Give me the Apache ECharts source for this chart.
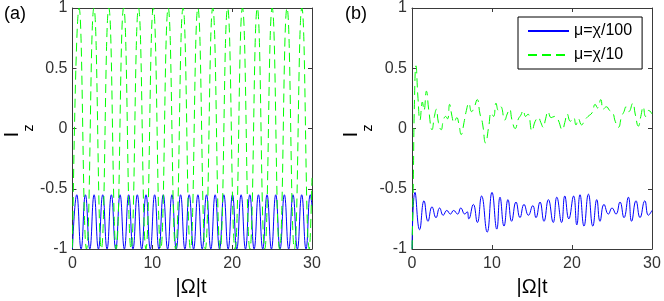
<!DOCTYPE html>
<html>
<head>
<meta charset="utf-8">
<script src="https://cdn.jsdelivr.net/npm/echarts@6/dist/echarts.min.js"></script>
<style>html,body{margin:0;padding:0;background:#fff}#c{width:664px;height:301px}</style>
</head>
<body>
<div id="c"></div>
<script>
// ---------- data ----------
const xTicks = [0, 10, 20, 30];
const yTicks = [-1, -0.5, 0, 0.5, 1];
const legendNames = ['μ=χ/100', 'μ=χ/10'];

// panel (a): extrema of the blue (μ=χ/100) curve
const aBlueT = [0, 0.54, 1.08, 1.62, 2.17, 2.71, 3.25, 3.79, 4.33, 4.87, 5.42, 5.96, 6.5, 7.04, 7.58, 8.12, 8.67, 9.21, 9.75, 10.29, 10.83, 11.37, 11.92, 12.46, 13.0, 13.54, 14.08, 14.62, 15.17, 15.71, 16.25, 16.79, 17.33, 17.87, 18.42, 18.96, 19.5, 20.04, 20.58, 21.12, 21.67, 22.21, 22.75, 23.29, 23.83, 24.37, 24.92, 25.46, 26.0, 26.54, 27.08, 27.62, 28.17, 28.71, 29.25, 29.79, 30];
const aBlueV = [-1, -0.55, -1, -0.55, -1, -0.55, -1, -0.55, -1, -0.55, -1, -0.55, -1, -0.55, -1, -0.55, -1, -0.55, -1, -0.55, -1, -0.55, -1, -0.55, -1, -0.55, -1, -0.55, -1, -0.55, -1, -0.55, -1, -0.55, -1, -0.55, -1, -0.55, -1, -0.55, -1, -0.55, -1, -0.55, -1, -0.55, -1, -0.55, -1, -0.55, -1, -0.55, -1, -0.55, -1, -0.55, -0.64];
// panel (a): extrema of the green (μ=χ/10) curve
const aGreenT = [0, 0.83, 1.76, 2.69, 3.62, 4.55, 5.48, 6.41, 7.34, 8.27, 9.2, 10.13, 11.06, 11.99, 12.92, 13.85, 14.78, 15.71, 16.64, 17.57, 18.5, 19.43, 20.36, 21.29, 22.22, 23.15, 24.08, 25.01, 25.94, 26.87, 27.8, 28.73, 29.66, 30];
const aGreenV = [-0.99, 1, -1, 1, -1, 1, -1, 1, -1, 1, -1, 1, -1, 1, -1, 1, -1, 1, -1, 1, -1, 1, -1, 1, -1, 1, -1, 1, -1, 1, -1, 1, -1, -0.41];

// panel (b): blue (μ=χ/100)
const bBlueT = [0, 0.375, 0.95, 1.5, 2.0, 2.5, 3.0, 3.45, 3.9, 4.35, 4.8, 5.2, 5.7, 6.1, 6.6, 6.9, 7.1, 7.67, 8.17, 8.7, 9.4, 10.0, 10.6, 11.0, 11.5, 12.0, 12.45, 13.0, 13.5, 14.0, 14.55, 15.1, 15.5, 16.0, 16.5, 17.05, 17.65, 18.1, 18.7, 19.1, 19.6, 20.2, 20.6, 21.0, 21.5, 22.05, 22.6, 23.1, 23.5, 24.0, 24.55, 25.0, 25.5, 26.0, 26.5, 27.05, 27.45, 28.0, 28.5, 29.1, 29.55, 30];
const bBlueV = [-1, -0.53, -0.84, -0.60, -0.77, -0.65, -0.74, -0.66, -0.72, -0.68, -0.71, -0.68, -0.71, -0.66, -0.71, -0.69, -0.75, -0.63, -0.78, -0.56, -0.86, -0.53, -0.835, -0.57, -0.81, -0.59, -0.77, -0.61, -0.74, -0.63, -0.72, -0.64, -0.74, -0.61, -0.77, -0.59, -0.78, -0.57, -0.78, -0.56, -0.75, -0.56, -0.80, -0.55, -0.81, -0.545, -0.81, -0.59, -0.77, -0.63, -0.71, -0.66, -0.71, -0.61, -0.74, -0.57, -0.77, -0.60, -0.74, -0.60, -0.72, -0.68];
// panel (b): green (μ=χ/10)
const bGreenT = [0, 0.15, 0.3, 0.5, 0.75, 1.0, 1.3, 1.5, 1.8, 2.1, 2.5, 2.8, 3.05, 3.3, 3.65, 3.9, 4.2, 4.45, 4.7, 5.0, 5.25, 5.6, 5.85, 6.15, 6.5, 6.8, 7.1, 7.45, 7.8, 8.15, 8.5, 8.8, 9.2, 9.6, 9.9, 10.2, 10.5, 10.8, 11.1, 11.6, 11.9, 12.2, 12.5, 12.9, 13.3, 13.6, 13.9, 14.2, 14.5, 15.0, 15.4, 15.8, 16.1, 16.4, 16.7, 17.0, 17.4, 17.8, 18.2, 18.8, 19.1, 19.4, 19.8, 20.2, 20.5, 20.8, 21.2, 21.6, 22.0, 22.5, 22.9, 23.2, 23.6, 23.9, 24.3, 24.7, 25.1, 25.4, 25.8, 26.2, 26.5, 26.75, 27.1, 27.6, 27.9, 28.3, 28.6, 28.9, 29.2, 29.6, 30];
const bGreenV = [-1, -0.5, 0.2, 0.52, 0.25, 0.07, 0.22, 0.15, 0.31, 0.15, -0.01, 0.1, 0.16, 0.05, -0.01, 0.06, 0.1, 0.08, 0.2, 0.1, 0.05, 0.09, 0.04, -0.05, 0.05, 0.15, 0.21, 0.14, 0.18, 0.24, 0.12, 0.05, -0.12, 0.02, 0.13, 0.1, 0.21, 0.15, 0.18, 0.07, 0.12, 0.16, 0.07, 0.0, 0.08, 0.11, 0.15, 0.1, 0.12, -0.02, 0.06, 0.09, 0.05, 0.01, 0.08, 0.14, 0.09, 0.1, 0.08, -0.01, 0.05, 0.12, 0.06, 0.09, 0.03, 0.08, 0.03, 0.07, 0.1, 0.13, 0.2, 0.17, 0.24, 0.16, 0.18, 0.15, 0.13, 0.06, 0.01, 0.1, 0.14, 0.18, 0.14, 0.21, 0.12, 0.02, 0.1, 0.18, 0.1, 0.15, 0.12];

// ---------- build ----------
const zip = (t, v) => t.map((x, i) => [x, v[i]]);
const FONT = 'Liberation Sans, Arial, sans-serif';
const AX = '#3a3a3a';
const BLUE = '#0000ff', GREEN = '#00ff00';

const grids = [
  { left: 70, top: 7, width: 242, height: 242 },
  { left: 412, top: 7, width: 240, height: 242 }
];
const xAxes = [], yAxes = [];
[0, 1].forEach(g => {
  xAxes.push({
    gridIndex: g, type: 'value', min: xTicks[0], max: xTicks[xTicks.length - 1], interval: 10,
    position: 'bottom',
    axisLine: { show: true, onZero: false, lineStyle: { color: AX, width: 1 } },
    axisTick: { inside: true, length: 4, lineStyle: { color: AX } },
    axisLabel: { margin: 7, fontFamily: FONT, fontSize: 16, color: '#333' },
    splitLine: { show: false }
  });
  xAxes.push({
    gridIndex: g, type: 'value', min: 0, max: 30, interval: 10, position: 'top',
    axisLine: { show: true, onZero: false, lineStyle: { color: AX, width: 1 } },
    axisTick: { inside: true, length: 4, lineStyle: { color: AX } },
    axisLabel: { show: false }, splitLine: { show: false }
  });
  yAxes.push({
    gridIndex: g, type: 'value', min: yTicks[0], max: yTicks[yTicks.length - 1], interval: 0.5,
    position: 'left',
    name: 'I{s|z}', nameLocation: 'middle', nameRotate: 90, nameGap: 36,
    nameTextStyle: {
      fontFamily: FONT, fontSize: 21, color: '#000', lineHeight: 22, verticalAlign: 'top',
      rich: { s: { fontFamily: FONT, fontSize: 14, color: '#000', lineHeight: 14, verticalAlign: 'top', padding: [21, 5, 0, 0] } }
    },
    axisLine: { show: true, onZero: false, lineStyle: { color: AX, width: 1 } },
    axisTick: { inside: true, length: 4, lineStyle: { color: AX } },
    axisLabel: { margin: 5, fontFamily: FONT, fontSize: 16, color: '#333' },
    splitLine: { show: false }
  });
  yAxes.push({
    gridIndex: g, type: 'value', min: -1, max: 1, interval: 0.5, position: 'right',
    axisLine: { show: true, onZero: false, lineStyle: { color: AX, width: 1 } },
    axisTick: { inside: true, length: 4, lineStyle: { color: AX } },
    axisLabel: { show: false }, splitLine: { show: false }
  });
});

function lineSeries(name, xi, yi, data, color, dashed) {
  return {
    name, type: 'line', xAxisIndex: xi, yAxisIndex: yi, data,
    smooth: 0.5, symbol: 'none', animation: false, silent: true,
    lineStyle: { color, width: 1, type: dashed ? [9, 5] : 'solid' },
    itemStyle: { color }
  };
}

const option = {
  animation: false,
  backgroundColor: '#fff',
  grid: grids,
  xAxis: xAxes,
  yAxis: yAxes,
  legend: {
    data: legendNames,
    orient: 'vertical', left: 518, top: 17,
    itemWidth: 41, itemHeight: 10, itemGap: 8,
    padding: [6, 10, 6, 9],
    backgroundColor: '#fff', borderColor: '#000', borderWidth: 1, borderRadius: 0,
    itemStyle: { color: 'rgba(0,0,0,0)', borderColor: 'rgba(0,0,0,0)', borderWidth: 0 },
    textStyle: { fontFamily: FONT, fontSize: 16, color: '#000' },
    selectedMode: false
  },
  series: [
    lineSeries('a1', 0, 0, zip(aBlueT, aBlueV), BLUE, false),
    lineSeries('a2', 0, 0, zip(aGreenT, aGreenV), GREEN, true),
    lineSeries(legendNames[0], 2, 2, zip(bBlueT, bBlueV), BLUE, false),
    lineSeries(legendNames[1], 2, 2, zip(bGreenT, bGreenV), GREEN, true)
  ],
  graphic: [
    { type: 'text', left: 4, top: 5, style: { text: '(a)', font: '18px ' + FONT, fill: '#000' } },
    { type: 'text', left: 345, top: 5, style: { text: '(b)', font: '18px ' + FONT, fill: '#000' } },
    { type: 'text', x: 191, y: 287, style: { text: '|Ω|t', font: '20px ' + FONT, fill: '#000', textAlign: 'center', textVerticalAlign: 'middle' } },
    { type: 'text', x: 532, y: 287, style: { text: '|Ω|t', font: '20px ' + FONT, fill: '#000', textAlign: 'center', textVerticalAlign: 'middle' } }
  ]
};

const chart = echarts.init(document.getElementById('c'), null, { renderer: 'canvas' });
chart.setOption(option);
</script>
</body>
</html>
